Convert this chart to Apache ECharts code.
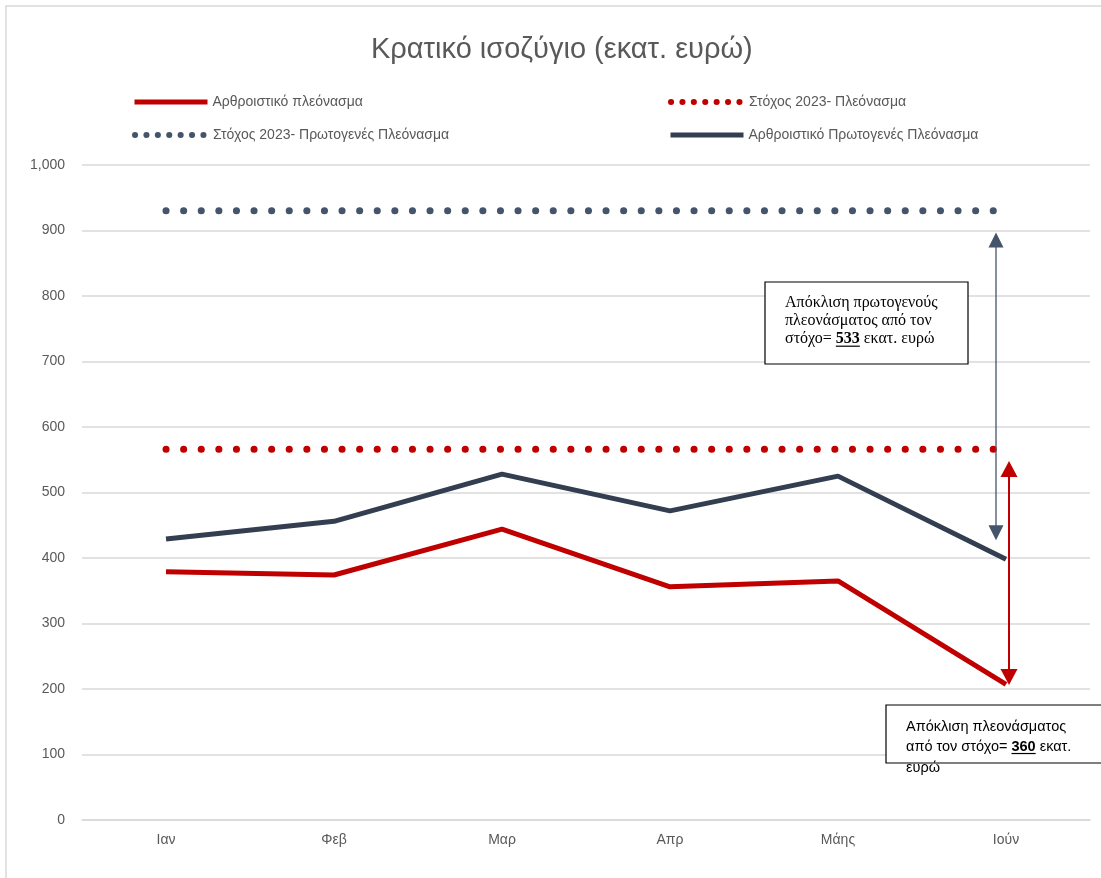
<!DOCTYPE html>
<html>
<head>
<meta charset="utf-8">
<script src="https://cdn.jsdelivr.net/npm/echarts@6/dist/echarts.min.js"></script>
<style>
  html, body { margin: 0; padding: 0; background: #fff; }
  #chart { width: 1101px; height: 878px; }
</style>
</head>
<body>
<div id="chart"></div>
<script>
const months = ['Ιαν', 'Φεβ', 'Μαρ', 'Απρ', 'Μάης', 'Ιούν']
const cumulativeSurplus = [379, 374, 444, 356, 365, 207]
const cumulativePrimary = [429, 456, 528, 472, 525, 398]
const targetSurplus = [566, 566, 566, 566, 566, 566]
const targetPrimary = [930, 930, 930, 930, 930, 930]

const seriesNames = [
  'Αρθροιστικό πλεόνασμα',
  'Στόχος 2023- Πλεόνασμα',
  'Στόχος 2023- Πρωτογενές Πλεόνασμα',
  'Αρθροιστικό Πρωτογενές Πλεόνασμα',
]

// arrow ends (value axis units)
const primaryGapArrow = [897, 427]
const surplusGapArrow = [548, 206]

const RED = '#C00000'
const NAVY = '#333F50'
const SLATE = '#44546A'
const GREY_TEXT = '#595959'
const SANS = '"Liberation Sans", Arial, sans-serif'
const SERIF = '"Liberation Serif", "Times New Roman", serif'

const chart = echarts.init(document.getElementById('chart'))

function legendAt(name, left, top, lineStyle) {
  return {
    data: [name],
    left,
    top,
    padding: 0,
    itemWidth: 73,
    itemHeight: 14,
    itemGap: 5,
    itemStyle: { opacity: 0 },
    textStyle: { color: GREY_TEXT, fontSize: 14, fontFamily: SANS },
    lineStyle,
  }
}

const dots = { width: 6, type: [0.1, 11.3], cap: 'round' }

const option = {
  animation: false,
  title: {
    text: 'Κρατικό ισοζύγιο (εκατ. ευρώ)',
    left: 366,
    top: 30,
    textStyle: { color: GREY_TEXT, fontSize: 29, fontWeight: 'normal', fontFamily: SANS },
  },
  legend: [
    legendAt(seriesNames[0], 132, 95, { width: 5 }),
    legendAt(seriesNames[1], 668, 95, dots),
    legendAt(seriesNames[2], 132, 128, dots),
    legendAt(seriesNames[3], 668, 128, { width: 5 }),
  ],
  grid: { left: 82, right: 11, top: 165, bottom: 58 },
  xAxis: {
    type: 'category',
    data: months,
    boundaryGap: true,
    axisLine: { lineStyle: { color: '#d9d9d9', width: 1.5 } },
    axisTick: { show: false },
    axisLabel: { color: GREY_TEXT, fontSize: 14, margin: 13, fontFamily: SANS },
  },
  yAxis: {
    type: 'value',
    min: 0,
    max: 1000,
    interval: 100,
    axisLine: { show: false },
    axisTick: { show: false },
    axisLabel: {
      color: GREY_TEXT,
      fontSize: 14,
      margin: 17,
      fontFamily: SANS,
      formatter: v => v.toLocaleString('en-US'),
    },
    splitLine: { lineStyle: { color: '#d9d9d9', width: 1.5 } },
  },
  series: [
    {
      name: seriesNames[2],
      type: 'line',
      data: targetPrimary,
      symbol: 'none',
      lineStyle: { color: SLATE, width: 7, type: [0.1, 17.5], cap: 'round' },
      itemStyle: { color: SLATE },
      z: 2,
    },
    {
      name: seriesNames[1],
      type: 'line',
      data: targetSurplus,
      symbol: 'none',
      lineStyle: { color: RED, width: 7, type: [0.1, 17.5], cap: 'round' },
      itemStyle: { color: RED },
      z: 2,
    },
    {
      name: seriesNames[3],
      type: 'line',
      data: cumulativePrimary,
      symbol: 'none',
      lineStyle: { color: NAVY, width: 5 },
      itemStyle: { color: NAVY },
      z: 3,
    },
    {
      name: seriesNames[0],
      type: 'line',
      data: cumulativeSurplus,
      symbol: 'none',
      lineStyle: { color: RED, width: 5 },
      itemStyle: { color: RED },
      z: 3,
    },
  ],
}

chart.setOption(option)

// ---- annotations ----
const measureCtx = document.createElement('canvas').getContext('2d')
function textWidth(str, font) {
  measureCtx.font = font
  return measureCtx.measureText(str).width
}

function arrow(x, yTop, yBot, color, lw, headW, headH) {
  return [
    {
      type: 'line',
      shape: { x1: x, y1: yTop + headH - 1, x2: x, y2: yBot - headH + 1 },
      style: { stroke: color, lineWidth: lw },
      z: 20,
    },
    {
      type: 'polygon',
      shape: { points: [[x, yTop], [x - headW / 2, yTop + headH], [x + headW / 2, yTop + headH]] },
      style: { fill: color },
      z: 20,
    },
    {
      type: 'polygon',
      shape: { points: [[x, yBot], [x - headW / 2, yBot - headH], [x + headW / 2, yBot - headH]] },
      style: { fill: color },
      z: 20,
    },
  ]
}

// text line with bold underlined number in the middle
function noteLine(x, y, before, num, after, size, family) {
  const font = size + 'px ' + family
  const bold = 'bold ' + size + 'px ' + family
  const w1 = textWidth(before, font)
  const w2 = textWidth(num, bold)
  const base = { textVerticalAlign: 'middle', fill: '#000', fontSize: size, fontFamily: family }
  return [
    { type: 'text', x, y, style: { ...base, text: before }, z: 30 },
    { type: 'text', x: x + w1, y, style: { ...base, text: num, fontWeight: 'bold' }, z: 30 },
    { type: 'text', x: x + w1 + w2, y, style: { ...base, text: after }, z: 30 },
    {
      type: 'line',
      shape: { x1: x + w1, y1: y + size * 0.45, x2: x + w1 + w2, y2: y + size * 0.45 },
      style: { stroke: '#000', lineWidth: 1.2 },
      z: 30,
    },
  ]
}

function plainLine(x, y, str, size, family) {
  return {
    type: 'text', x, y,
    style: { text: str, textVerticalAlign: 'middle', fill: '#000', fontSize: size, fontFamily: family },
    z: 30,
  }
}

const lastX = chart.convertToPixel({ gridIndex: 0 }, [months.length - 1, 0])[0]
const py = v => chart.convertToPixel({ gridIndex: 0 }, [0, v])[1]

const graphics = [
  // outer frame (top + left edges)
  {
    type: 'polyline',
    shape: { points: [[6, 878], [6, 6], [1101, 6]] },
    style: { stroke: '#d9d9d9', lineWidth: 1.5, fill: null },
    z: 1,
  },
  ...arrow(lastX - 10, py(primaryGapArrow[0]), py(primaryGapArrow[1]), SLATE, 1.3, 15, 15),
  ...arrow(lastX + 3, py(surplusGapArrow[0]), py(surplusGapArrow[1]), RED, 2, 17, 16),
  {
    type: 'rect',
    shape: { x: 765, y: 282, width: 203, height: 82 },
    style: { fill: '#fff', stroke: '#000', lineWidth: 1.2 },
    z: 25,
  },
  plainLine(785, 303, 'Απόκλιση πρωτογενούς', 16, SERIF),
  plainLine(785, 321, 'πλεονάσματος από τον', 16, SERIF),
  ...noteLine(785, 339, 'στόχο= ', '533', ' εκατ. ευρώ', 16, SERIF),
  {
    type: 'rect',
    shape: { x: 886, y: 705, width: 230, height: 58 },
    style: { fill: '#fff', stroke: '#000', lineWidth: 1.2 },
    z: 25,
  },
  plainLine(906, 727, 'Απόκλιση πλεονάσματος', 14.5, SANS),
  ...noteLine(906, 747, 'από τον στόχο= ', '360', ' εκατ.', 14.5, SANS),
  plainLine(906, 768, 'ευρώ', 14.5, SANS),
]

chart.setOption({ graphic: graphics })
</script>
</body>
</html>
